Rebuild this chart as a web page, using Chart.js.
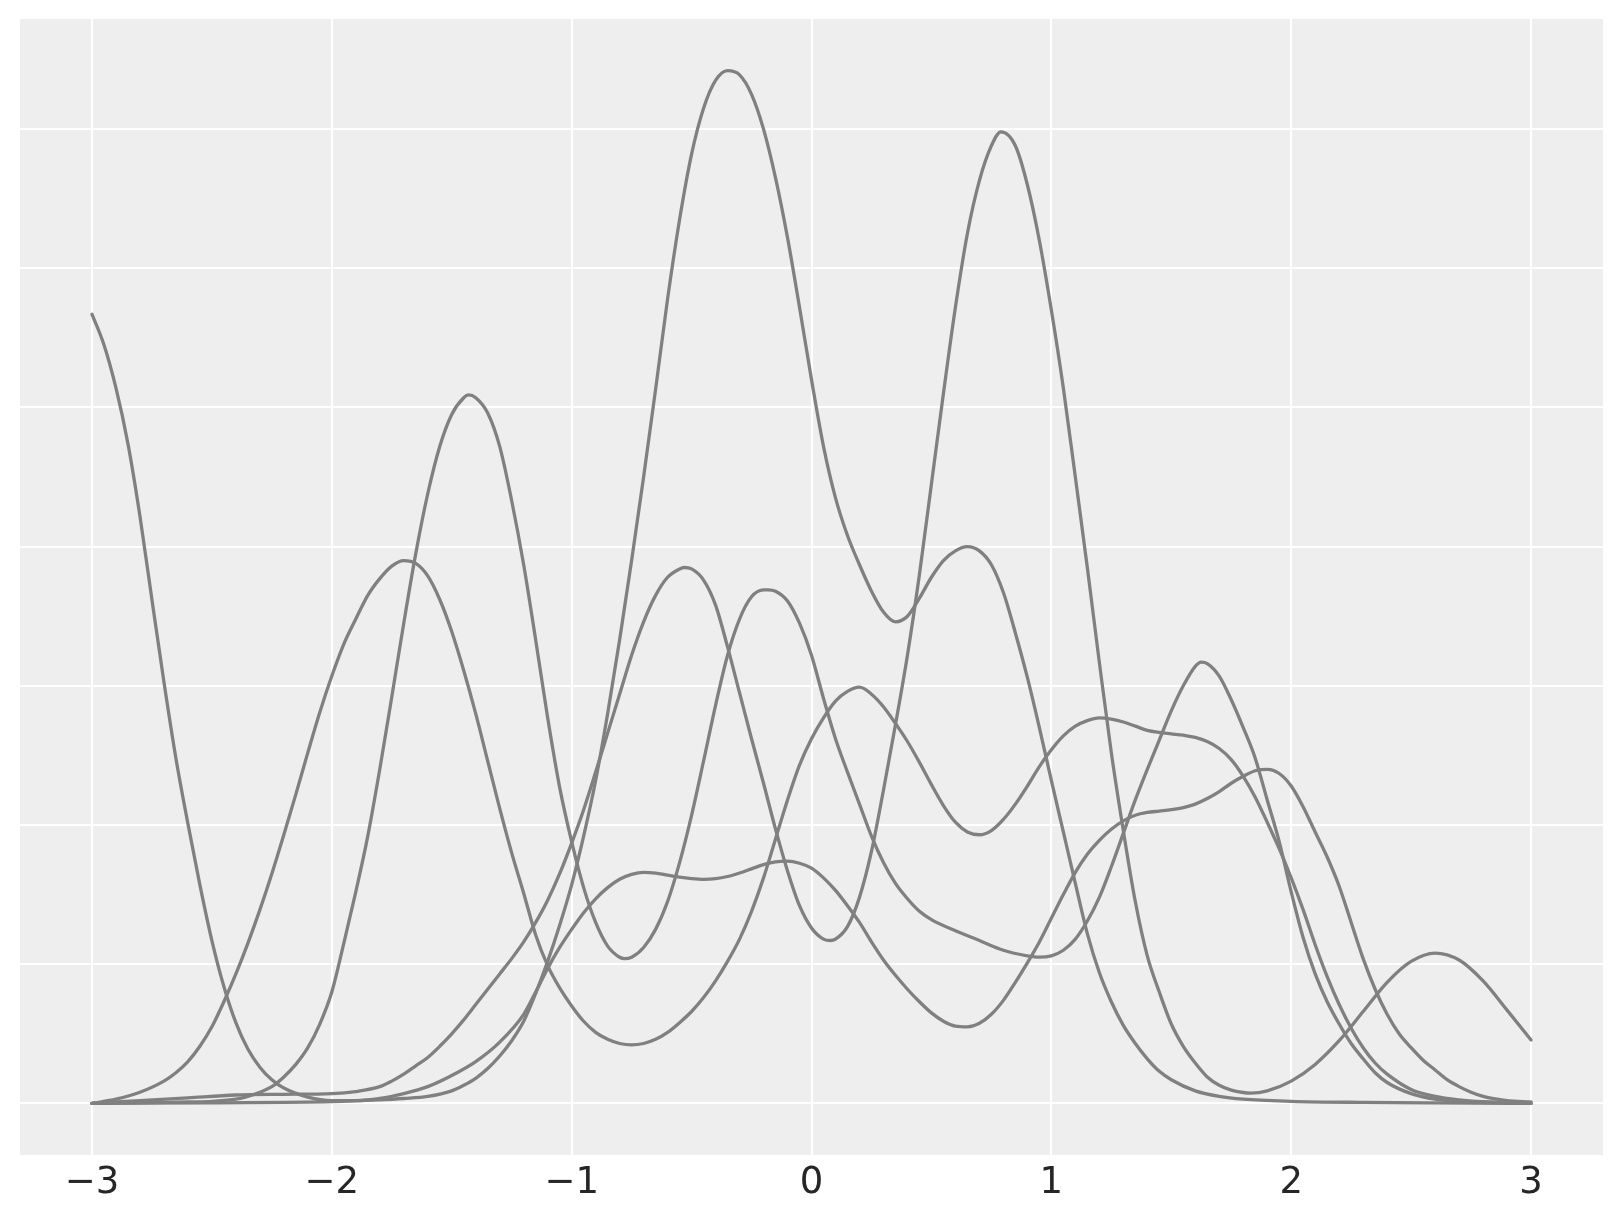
<!DOCTYPE html>
<html><head><meta charset="utf-8">
<script src="https://cdn.jsdelivr.net/npm/chart.js@4/dist/chart.umd.min.js"></script>
<style>html,body{margin:0;padding:0;background:#fff;} #wrap{width:1623px;height:1223px;}</style>
</head><body><div id="wrap"><canvas id="c" width="1623" height="1223"></canvas></div>
<script>
const xTicks = [-3, -2, -1, 0, 1, 2, 3];
const yGrid = [0, 1, 2, 3, 4, 5, 6, 7];

const x1 = [-3, -2.95, -2.9, -2.85, -2.8, -2.75, -2.7, -2.65, -2.6, -2.55, -2.5, -2.45, -2.4, -2.35, -2.3, -2.25, -2.2, -2.1, -2.0, -1.9, -1.8, -1.7, -1.6, -1.5, -1.4, -1.3, -1.2, -1.15, -1.1, -1.05, -1.0, -0.95, -0.9, -0.85, -0.8, -0.75, -0.7, -0.65, -0.6, -0.55, -0.5, -0.45, -0.4, -0.35, -0.3, -0.25, -0.2, -0.15, -0.1, -0.05, 0.0, 0.05, 0.1, 0.15, 0.2, 0.25, 0.3, 0.35, 0.4, 0.45, 0.5, 0.55, 0.6, 0.65, 0.7, 0.75, 0.8, 0.85, 0.9, 0.95, 1.0, 1.05, 1.1, 1.15, 1.2, 1.25, 1.3, 1.35, 1.4, 1.45, 1.5, 1.55, 1.6, 1.65, 1.7, 1.75, 1.8, 1.85, 1.9, 1.95, 2.0, 2.05, 2.1, 2.15, 2.2, 2.25, 2.3, 2.35, 2.4, 2.45, 2.5, 2.55, 2.6, 2.65, 2.7, 2.75, 2.8, 2.9, 3.0];
const y1 = [5.67, 5.45, 5.14, 4.74, 4.22, 3.62, 3.03, 2.48, 2.01, 1.57, 1.17, 0.84, 0.58, 0.39, 0.26, 0.17, 0.11, 0.045, 0.02, 0.02, 0.035, 0.07, 0.12, 0.2, 0.3, 0.44, 0.64, 0.8, 0.97, 1.12, 1.25, 1.37, 1.47, 1.55, 1.61, 1.645, 1.66, 1.655, 1.64, 1.625, 1.615, 1.61, 1.615, 1.63, 1.655, 1.685, 1.715, 1.735, 1.74, 1.725, 1.69, 1.62, 1.53, 1.42, 1.30, 1.16, 1.03, 0.92, 0.82, 0.73, 0.65, 0.59, 0.555, 0.55, 0.575, 0.64, 0.74, 0.87, 1.01, 1.16, 1.33, 1.50, 1.66, 1.79, 1.89, 1.97, 2.03, 2.07, 2.09, 2.10, 2.11, 2.125, 2.15, 2.19, 2.24, 2.30, 2.35, 2.39, 2.40, 2.37, 2.28, 2.13, 1.95, 1.77, 1.56, 1.30, 1.04, 0.82, 0.64, 0.5, 0.40, 0.31, 0.24, 0.17, 0.12, 0.08, 0.05, 0.02, 0.01];

const x2 = [-3, -2.8, -2.6, -2.5, -2.4, -2.35, -2.3, -2.25, -2.2, -2.15, -2.1, -2.05, -2.0, -1.95, -1.9, -1.85, -1.8, -1.75, -1.7, -1.65, -1.6, -1.55, -1.5, -1.45, -1.43, -1.4, -1.35, -1.3, -1.25, -1.2, -1.15, -1.1, -1.05, -1.0, -0.95, -0.9, -0.85, -0.8, -0.78, -0.75, -0.7, -0.65, -0.6, -0.55, -0.5, -0.45, -0.4, -0.35, -0.3, -0.25, -0.2, -0.18, -0.15, -0.1, -0.05, 0.0, 0.05, 0.1, 0.15, 0.2, 0.25, 0.3, 0.35, 0.4, 0.45, 0.5, 0.6, 0.7, 0.8, 0.9, 0.95, 1.0, 1.05, 1.1, 1.15, 1.2, 1.25, 1.3, 1.35, 1.4, 1.45, 1.5, 1.55, 1.6, 1.625, 1.65, 1.7, 1.75, 1.8, 1.85, 1.9, 1.95, 2.0, 2.05, 2.1, 2.15, 2.2, 2.25, 2.3, 2.35, 2.4, 2.5, 2.6, 2.7, 2.8, 3.0];
const y2 = [0, 0.003, 0.01, 0.015, 0.03, 0.05, 0.08, 0.12, 0.19, 0.28, 0.40, 0.57, 0.80, 1.15, 1.52, 1.92, 2.40, 2.92, 3.45, 3.95, 4.38, 4.72, 4.95, 5.07, 5.09, 5.07, 4.96, 4.72, 4.33, 3.87, 3.33, 2.77, 2.27, 1.88, 1.55, 1.30, 1.13, 1.05, 1.04, 1.05, 1.12, 1.25, 1.45, 1.73, 2.07, 2.46, 2.86, 3.22, 3.48, 3.64, 3.69, 3.69, 3.68, 3.61, 3.45, 3.22, 2.91, 2.62, 2.38, 2.15, 1.92, 1.73, 1.58, 1.47, 1.38, 1.32, 1.24, 1.17, 1.10, 1.06, 1.05, 1.06, 1.10, 1.18, 1.31, 1.48, 1.70, 1.94, 2.18, 2.40, 2.61, 2.82, 3.0, 3.14, 3.17, 3.16, 3.07, 2.90, 2.70, 2.48, 2.18, 1.88, 1.52, 1.19, 0.93, 0.73, 0.57, 0.43, 0.32, 0.22, 0.15, 0.07, 0.03, 0.015, 0.008, 0];

const x3 = [-3, -2.5, -2.0, -1.8, -1.7, -1.6, -1.5, -1.45, -1.4, -1.35, -1.3, -1.25, -1.2, -1.15, -1.1, -1.05, -1.0, -0.95, -0.9, -0.85, -0.8, -0.75, -0.7, -0.65, -0.6, -0.55, -0.5, -0.45, -0.4, -0.35, -0.3, -0.25, -0.2, -0.15, -0.1, -0.05, 0.0, 0.05, 0.1, 0.15, 0.2, 0.25, 0.3, 0.35, 0.4, 0.45, 0.5, 0.55, 0.6, 0.65, 0.7, 0.75, 0.8, 0.85, 0.9, 0.95, 1.0, 1.05, 1.1, 1.15, 1.2, 1.25, 1.3, 1.35, 1.4, 1.45, 1.5, 1.6, 1.7, 1.8, 2.0, 2.3, 2.6, 3.0];
const y3 = [0, 0.004, 0.012, 0.025, 0.035, 0.05, 0.09, 0.13, 0.18, 0.25, 0.34, 0.45, 0.59, 0.79, 1.02, 1.28, 1.57, 1.92, 2.32, 2.8, 3.33, 3.9, 4.5, 5.13, 5.78, 6.35, 6.82, 7.15, 7.35, 7.42, 7.39, 7.25, 7.0, 6.65, 6.22, 5.72, 5.2, 4.72, 4.35, 4.08, 3.87, 3.68, 3.53, 3.46, 3.50, 3.63, 3.78, 3.90, 3.97, 4.0, 3.97, 3.87, 3.67, 3.38, 3.06, 2.70, 2.32, 1.95, 1.58, 1.22, 0.94, 0.73, 0.56, 0.43, 0.32, 0.23, 0.17, 0.09, 0.05, 0.03, 0.015, 0.007, 0.003, 0];

const x4 = [-3, -2.9, -2.8, -2.7, -2.65, -2.6, -2.55, -2.5, -2.45, -2.4, -2.35, -2.3, -2.25, -2.2, -2.15, -2.1, -2.05, -2.0, -1.95, -1.9, -1.85, -1.8, -1.75, -1.7, -1.65, -1.6, -1.55, -1.5, -1.45, -1.4, -1.35, -1.3, -1.25, -1.2, -1.15, -1.1, -1.05, -1.0, -0.95, -0.9, -0.85, -0.8, -0.75, -0.7, -0.65, -0.6, -0.55, -0.5, -0.45, -0.4, -0.35, -0.3, -0.25, -0.2, -0.15, -0.1, -0.05, 0.0, 0.05, 0.1, 0.15, 0.2, 0.25, 0.3, 0.35, 0.4, 0.45, 0.5, 0.55, 0.6, 0.65, 0.7, 0.75, 0.8, 0.85, 0.9, 0.95, 1.0, 1.05, 1.1, 1.15, 1.2, 1.25, 1.3, 1.35, 1.4, 1.45, 1.5, 1.55, 1.6, 1.65, 1.7, 1.75, 1.8, 1.85, 1.9, 1.95, 2.0, 2.05, 2.1, 2.15, 2.2, 2.25, 2.3, 2.35, 2.4, 2.5, 2.6, 2.7, 2.8, 3.0];
const y4 = [0, 0.03, 0.08, 0.16, 0.22, 0.30, 0.41, 0.55, 0.73, 0.93, 1.15, 1.39, 1.65, 1.93, 2.22, 2.52, 2.81, 3.07, 3.3, 3.48, 3.65, 3.77, 3.86, 3.90, 3.88, 3.79, 3.62, 3.39, 3.11, 2.80, 2.46, 2.12, 1.80, 1.51, 1.21, 0.99, 0.83, 0.70, 0.59, 0.51, 0.46, 0.43, 0.42, 0.43, 0.46, 0.51, 0.58, 0.66, 0.76, 0.88, 1.02, 1.18, 1.38, 1.62, 1.90, 2.18, 2.43, 2.62, 2.77, 2.89, 2.96, 2.99, 2.94, 2.85, 2.73, 2.60, 2.45, 2.29, 2.14, 2.02, 1.95, 1.93, 1.96, 2.04, 2.15, 2.28, 2.42, 2.54, 2.64, 2.71, 2.75, 2.77, 2.76, 2.74, 2.71, 2.68, 2.665, 2.655, 2.645, 2.63, 2.60, 2.55, 2.47, 2.35, 2.20, 2.02, 1.83, 1.62, 1.39, 1.14, 0.91, 0.71, 0.54, 0.40, 0.29, 0.21, 0.10, 0.05, 0.025, 0.012, 0];

const x5 = [-3, -2.9, -2.8, -2.6, -2.4, -2.2, -2.0, -1.9, -1.8, -1.75, -1.7, -1.65, -1.6, -1.55, -1.5, -1.45, -1.4, -1.35, -1.3, -1.25, -1.2, -1.15, -1.1, -1.05, -1.0, -0.95, -0.9, -0.85, -0.8, -0.75, -0.7, -0.65, -0.6, -0.55, -0.53, -0.5, -0.45, -0.4, -0.35, -0.3, -0.25, -0.2, -0.15, -0.1, -0.05, 0.0, 0.05, 0.08, 0.1, 0.15, 0.2, 0.25, 0.3, 0.35, 0.4, 0.45, 0.5, 0.55, 0.6, 0.65, 0.7, 0.75, 0.79, 0.85, 0.9, 0.95, 1.0, 1.05, 1.1, 1.15, 1.2, 1.25, 1.3, 1.35, 1.4, 1.45, 1.5, 1.55, 1.6, 1.65, 1.7, 1.75, 1.8, 1.83, 1.9, 2.0, 2.1, 2.2, 2.3, 2.4, 2.5, 2.6, 2.7, 2.8, 2.9, 3.0];
const y5 = [0, 0.01, 0.02, 0.04, 0.06, 0.065, 0.07, 0.085, 0.12, 0.16, 0.21, 0.27, 0.33, 0.41, 0.50, 0.60, 0.71, 0.82, 0.93, 1.04, 1.16, 1.30, 1.46, 1.65, 1.87, 2.11, 2.38, 2.66, 2.94, 3.22, 3.46, 3.65, 3.78, 3.84, 3.85, 3.84, 3.76, 3.58, 3.28, 2.95, 2.62, 2.30, 1.97, 1.67, 1.42, 1.26, 1.18, 1.17, 1.18, 1.27, 1.48, 1.81, 2.25, 2.72, 3.22, 3.8, 4.45, 5.1, 5.72, 6.25, 6.63, 6.88, 6.98, 6.88, 6.6, 6.2, 5.7, 5.14, 4.5, 3.85, 3.17, 2.52, 1.96, 1.45, 1.06, 0.80, 0.57, 0.41, 0.29, 0.19, 0.13, 0.095, 0.078, 0.074, 0.09, 0.16, 0.28, 0.45, 0.66, 0.87, 1.02, 1.08, 1.03, 0.88, 0.67, 0.455];

const curves = [[x1, y1], [x2, y2], [x3, y3], [x4, y4], [x5, y5]];

function pts(xs, ys) { return xs.map((x, i) => ({ x: x, y: ys[i] })); }

const bgPlugin = {
  id: 'bg',
  beforeDraw(chart) {
    const ctx = chart.ctx, a = chart.chartArea;
    ctx.save();
    ctx.fillStyle = '#ffffff';
    ctx.fillRect(0, 0, chart.width, chart.height);
    ctx.fillStyle = '#eeeeee';
    ctx.fillRect(a.left, a.top, a.right - a.left, a.bottom - a.top);
    ctx.restore();
  }
};

new Chart(document.getElementById('c'), {
  type: 'line',
  data: {
    datasets: curves.map(c => ({
      data: pts(c[0], c[1]),
      borderColor: '#808080',
      borderWidth: 3.3,
      pointRadius: 0,
      fill: false,
      cubicInterpolationMode: 'monotone',
      borderCapStyle: 'round',
      borderJoinStyle: 'round'
    }))
  },
  options: {
    responsive: false,
    devicePixelRatio: 1,
    animation: false,
    layout: { padding: { left: 20, right: 20, top: 19, bottom: 0 } },
    plugins: { legend: { display: false }, tooltip: { enabled: false } },
    scales: {
      x: {
        type: 'linear', min: -3.3, max: 3.3,
        afterBuildTicks: s => { s.ticks = xTicks.map(v => ({ value: v })); },
        afterFit: s => { s.height = 68; },
        grid: { color: '#ffffff', lineWidth: 2, drawTicks: false },
        border: { display: false },
        ticks: {
          padding: 6,
          color: '#262626',
          font: { family: 'DejaVu Sans', size: 37 },
          callback: v => (v < 0 ? '\u2212' + Math.abs(v) : String(v))
        }
      },
      y: {
        type: 'linear', min: -0.371, max: 7.791,
        afterBuildTicks: s => { s.ticks = yGrid.map(v => ({ value: v })); },
        afterFit: s => { s.width = 0; },
        grid: { color: '#ffffff', lineWidth: 2, drawTicks: false },
        border: { display: false },
        ticks: { display: false }
      }
    }
  },
  plugins: [bgPlugin]
});
</script>
</body></html>
